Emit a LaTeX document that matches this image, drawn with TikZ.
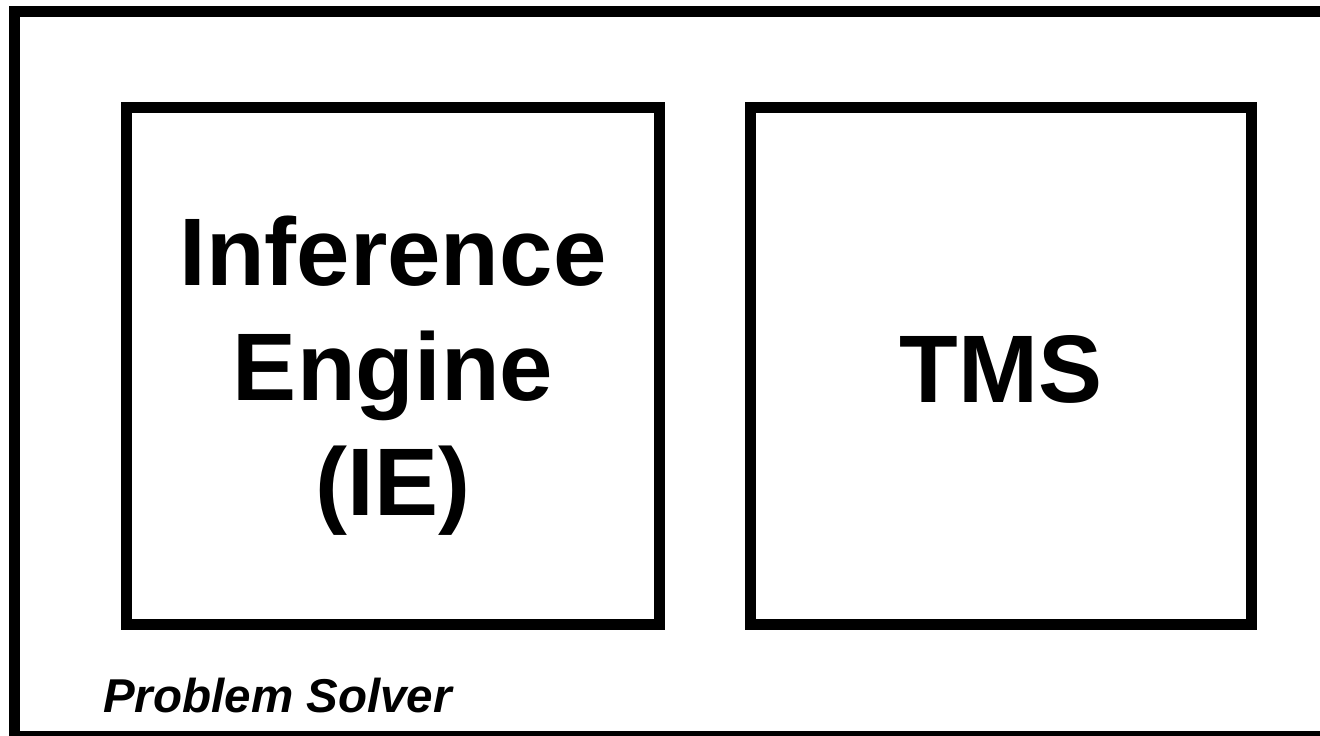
\documentclass[tikz,border=0pt]{standalone}
\usepackage{fontspec}
\setmainfont{Liberation Sans}
\begin{document}
\begin{tikzpicture}[x=1pt,y=-1pt,
  frame/.style={draw=black,line width=10.5pt},
  compbox/.style={draw=black,line width=11pt,minimum width=533pt,minimum height=517pt,inner sep=0pt},
  bigtext/.style={font=\fontsize{96}{115}\selectfont\bfseries,align=center,inner sep=0pt},
  smalltext/.style={font=\fontsize{47.5}{56}\selectfont\bfseries\itshape,inner sep=0pt}]
\useasboundingbox (0,0) rectangle (1320,736);
\draw[frame] (14.25,11.25) rectangle (1334,736.25);
\node[compbox] (ie) at (393,366) {};
\node[compbox,minimum width=501pt] (tms) at (1001,366) {};
\node[bigtext] (ietext) at (393,376) {Inference\\Engine\\(IE)};
\node[bigtext,anchor=base] (tmstext) at (1001,402) {TMS};
\node[smalltext,anchor=base west] (ps) at (103,712.7) {Problem Solver};
\end{tikzpicture}
\end{document}
